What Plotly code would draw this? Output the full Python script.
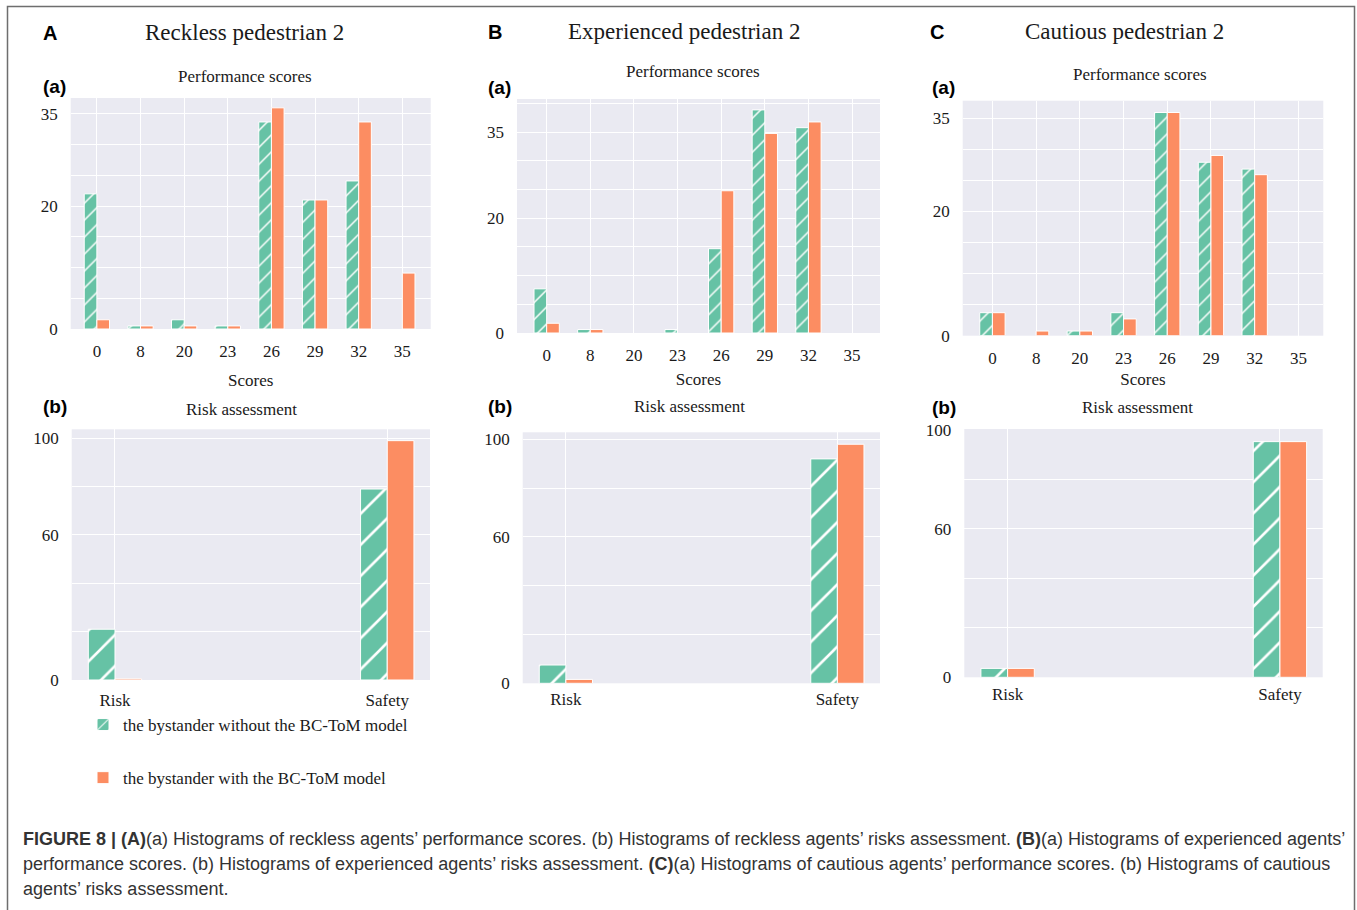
import plotly.graph_objects as go

W, H = 1357, 910

# ---------------- data ----------------
score_bins = ["0", "8", "20", "23", "26", "29", "32", "35"]
risk_bins = ["Risk", "Safety"]

reckless_without = [22, 0.5, 1.5, 0.5, 33.7, 21, 24.1, 0]
reckless_with = [1.5, 0.5, 0.5, 0.5, 36, 21, 33.7, 9.1]
experienced_without = [7.7, 0.6, 0, 0.6, 14.7, 38.9, 35.8, 0]
experienced_with = [1.7, 0.6, 0, 0, 24.8, 34.8, 36.8, 0]
cautious_without = [3.7, 0, 0.75, 3.7, 35.9, 27.9, 26.8, 0]
cautious_with = [3.7, 0.75, 0.75, 2.7, 35.9, 29, 25.9, 0]

reckless_risk_without = [21, 79]
reckless_risk_with = [0.5, 99]
experienced_risk_without = [7.5, 92]
experienced_risk_with = [1.6, 98]
cautious_risk_without = [3.6, 95.2]
cautious_risk_with = [3.6, 95.2]

score_ticks = [0, 20, 35]
risk_ticks = [0, 60, 100]

panel_titles = ["Reckless pedestrian 2", "Experienced pedestrian 2", "Cautious pedestrian 2"]
panel_letters = ["A", "B", "C"]
name_without = "the bystander without the BC-ToM model"
name_with = "the bystander with the BC-ToM model"

caption_lines = [
    "<b>FIGURE 8 | (A)</b>(a) Histograms of reckless agents’ performance scores. (b) Histograms of reckless agents’ risks assessment. <b>(B)</b>(a) Histograms of experienced agents’",
    "performance scores. (b) Histograms of experienced agents’ risks assessment. <b>(C)</b>(a) Histograms of cautious agents’ performance scores. (b) Histograms of cautious",
    "agents’ risks assessment.",
]

# ---------------- style ----------------
GREEN = "#66C2A5"
ORANGE = "#FC8D62"
BG = "#EAEAF2"
SERIF = "Liberation Serif, Times New Roman, serif"
SANS = "Liberation Sans, Arial, sans-serif"
TXT = "#1a1a1a"


def px_x(p):
    return p / W


def px_y(p):
    return 1 - p / H


# subplot pixel boxes: (x0, x1, y0(top), y1(bottom))
boxes_a = [(70.7, 430.7, 98, 329), (517, 880, 99, 333), (962.7, 1323.3, 100.7, 335.7)]
boxes_b = [(71.7, 430, 429.3, 680), (522.7, 880, 432.3, 683.3), (964.3, 1322.7, 429, 677.3)]
xr_a = [[-0.6, 7.65], [-0.68, 7.64], [-0.68, 7.57]]
yr_a = [37.6, 40.8, 37.8]
yr_b = [103.7, 102.9, 100.3]
title_standoff = [14, 9, 6]
risk_tick_standoff = [8, 4, 5]

score_data = [(reckless_without, reckless_with),
              (experienced_without, experienced_with),
              (cautious_without, cautious_with)]
risk_data = [(reckless_risk_without, reckless_risk_with),
             (experienced_risk_without, experienced_risk_with),
             (cautious_risk_without, cautious_risk_with)]

fig = go.Figure()
layout_axes = {}

axis_font = dict(family=SERIF, size=17, color=TXT)


def edge_widths(vals):
    return [1 if v > 0 else 0 for v in vals]


def add_pair(idx, cats, vals_without, vals_with, w, hatch, legend):
    xa = "x" if idx == 1 else f"x{idx}"
    ya = "y" if idx == 1 else f"y{idx}"
    fig.add_trace(go.Bar(
        x=cats, y=vals_without, name=name_without, xaxis=xa, yaxis=ya,
        width=w, offset=-w, legendgroup="g1", showlegend=legend,
        marker=dict(color=GREEN, line=dict(color="white", width=edge_widths(vals_without)),
                    pattern=dict(shape="/", fgcolor="white", bgcolor=GREEN,
                                 size=hatch, solidity=0.12, fillmode="replace")),
    ))
    fig.add_trace(go.Bar(
        x=cats, y=vals_with, name=name_with, xaxis=xa, yaxis=ya,
        width=w, offset=0, legendgroup="g2", showlegend=legend,
        marker=dict(color=ORANGE, line=dict(color="white", width=edge_widths(vals_with))),
    ))


for i in range(3):
    # performance scores subplot
    ida = i + 1
    x0, x1, t, b = boxes_a[i]
    add_pair(ida, score_bins, score_data[i][0], score_data[i][1], 0.29, 12, i == 0)
    kx = "xaxis" if ida == 1 else f"xaxis{ida}"
    ky = "yaxis" if ida == 1 else f"yaxis{ida}"
    layout_axes[kx] = dict(
        domain=[px_x(x0), px_x(x1)], anchor="y" if ida == 1 else f"y{ida}",
        type="category", categoryorder="array", categoryarray=score_bins,
        range=xr_a[i], showgrid=True, gridcolor="white", gridwidth=1.3,
        tickfont=axis_font, ticks="", ticklabelstandoff=10, zeroline=False,
        showline=False, automargin=False,
        title=dict(text="Scores", font=dict(family=SERIF, size=17, color=TXT),
                   standoff=title_standoff[i]),
    )
    layout_axes[ky] = dict(
        domain=[px_y(b), px_y(t)], anchor="x" if ida == 1 else f"x{ida}",
        range=[0, yr_a[i]], tickvals=score_ticks, tickfont=axis_font,
        showgrid=True, gridcolor="white", gridwidth=1.3, zeroline=False,
        ticks="", ticklabelstandoff=12, showline=False, automargin=False,
        minor=dict(dtick=5, tick0=0, showgrid=True, gridcolor="white", gridwidth=1.3, ticks=""),
    )

    # risk assessment subplot
    idb = i + 4
    x0, x1, t, b = boxes_b[i]
    add_pair(idb, risk_bins, risk_data[i][0], risk_data[i][1], 0.098, 22, False)
    layout_axes[f"xaxis{idb}"] = dict(
        domain=[px_x(x0), px_x(x1)], anchor=f"y{idb}",
        type="category", categoryorder="array", categoryarray=risk_bins,
        range=[-0.159, 1.157], showgrid=True, gridcolor="white", gridwidth=1.3,
        tickfont=axis_font, ticks="", ticklabelstandoff=risk_tick_standoff[i],
        zeroline=False, showline=False, automargin=False,
    )
    layout_axes[f"yaxis{idb}"] = dict(
        domain=[px_y(b), px_y(t)], anchor=f"x{idb}",
        range=[0, yr_b[i]], tickvals=risk_ticks, tickfont=axis_font,
        showgrid=True, gridcolor="white", gridwidth=1.3, zeroline=False,
        ticks="", ticklabelstandoff=12, showline=False, automargin=False,
        minor=dict(dtick=20, tick0=0, showgrid=True, gridcolor="white", gridwidth=1.3, ticks=""),
    )

annotations = []


def ann(text, x, y, size, family, xanchor="center", bold=False, color=TXT):
    annotations.append(dict(
        text=f"<b>{text}</b>" if bold else text, x=px_x(x), y=px_y(y),
        xref="paper", yref="paper", xanchor=xanchor, yanchor="middle",
        showarrow=False, font=dict(family=family, size=size, color=color),
    ))


title_pos = [(244, 33), (684, 32), (1124, 32)]
letter_pos = [(50, 33), (495, 32), (937, 32)]
perf_pos = [(245, 76), (693, 72), (1140, 74)]
risk_pos = [(241, 410), (689, 406), (1137, 408)]
a_pos = [(41, 86), (486, 87), (930, 87)]
b_pos = [(41, 407), (486, 407), (930, 408)]

for i in range(3):
    ann(panel_titles[i], *title_pos[i], 23, SERIF)
    ann(panel_letters[i], *letter_pos[i], 20, SANS, bold=True, color="#000")
    ann("Performance scores", *perf_pos[i], 17, SERIF)
    ann("Risk assessment", *risk_pos[i], 17, SERIF)
    ann("(a)", *a_pos[i], 19, SANS, xanchor="left", bold=True, color="#000")
    ann("(b)", *b_pos[i], 19, SANS, xanchor="left", bold=True, color="#000")

cap_y = [839, 864, 889]
for line, yy in zip(caption_lines, cap_y):
    ann(line, 21, yy, 18, SANS, xanchor="left", color="#333333")

fig.update_layout(
    width=W, height=H, margin=dict(l=0, r=0, t=0, b=0, autoexpand=False),
    paper_bgcolor="white", plot_bgcolor=BG, barmode="overlay",
    annotations=annotations,
    showlegend=True,
    legend=dict(x=px_x(83), y=px_y(707), xanchor="left", yanchor="top",
                font=dict(family=SERIF, size=17, color=TXT),
                traceorder="grouped", tracegroupgap=28, bgcolor="rgba(0,0,0,0)"),
    shapes=[dict(type="rect", xref="paper", yref="paper",
                 x0=px_x(7.5), x1=px_x(1354.5), y0=-0.05, y1=px_y(6.5),
                 line=dict(color="#6e6e6e", width=1.5), fillcolor="rgba(0,0,0,0)", layer="below")],
    **layout_axes,
)

fig.write_html("out.html")
